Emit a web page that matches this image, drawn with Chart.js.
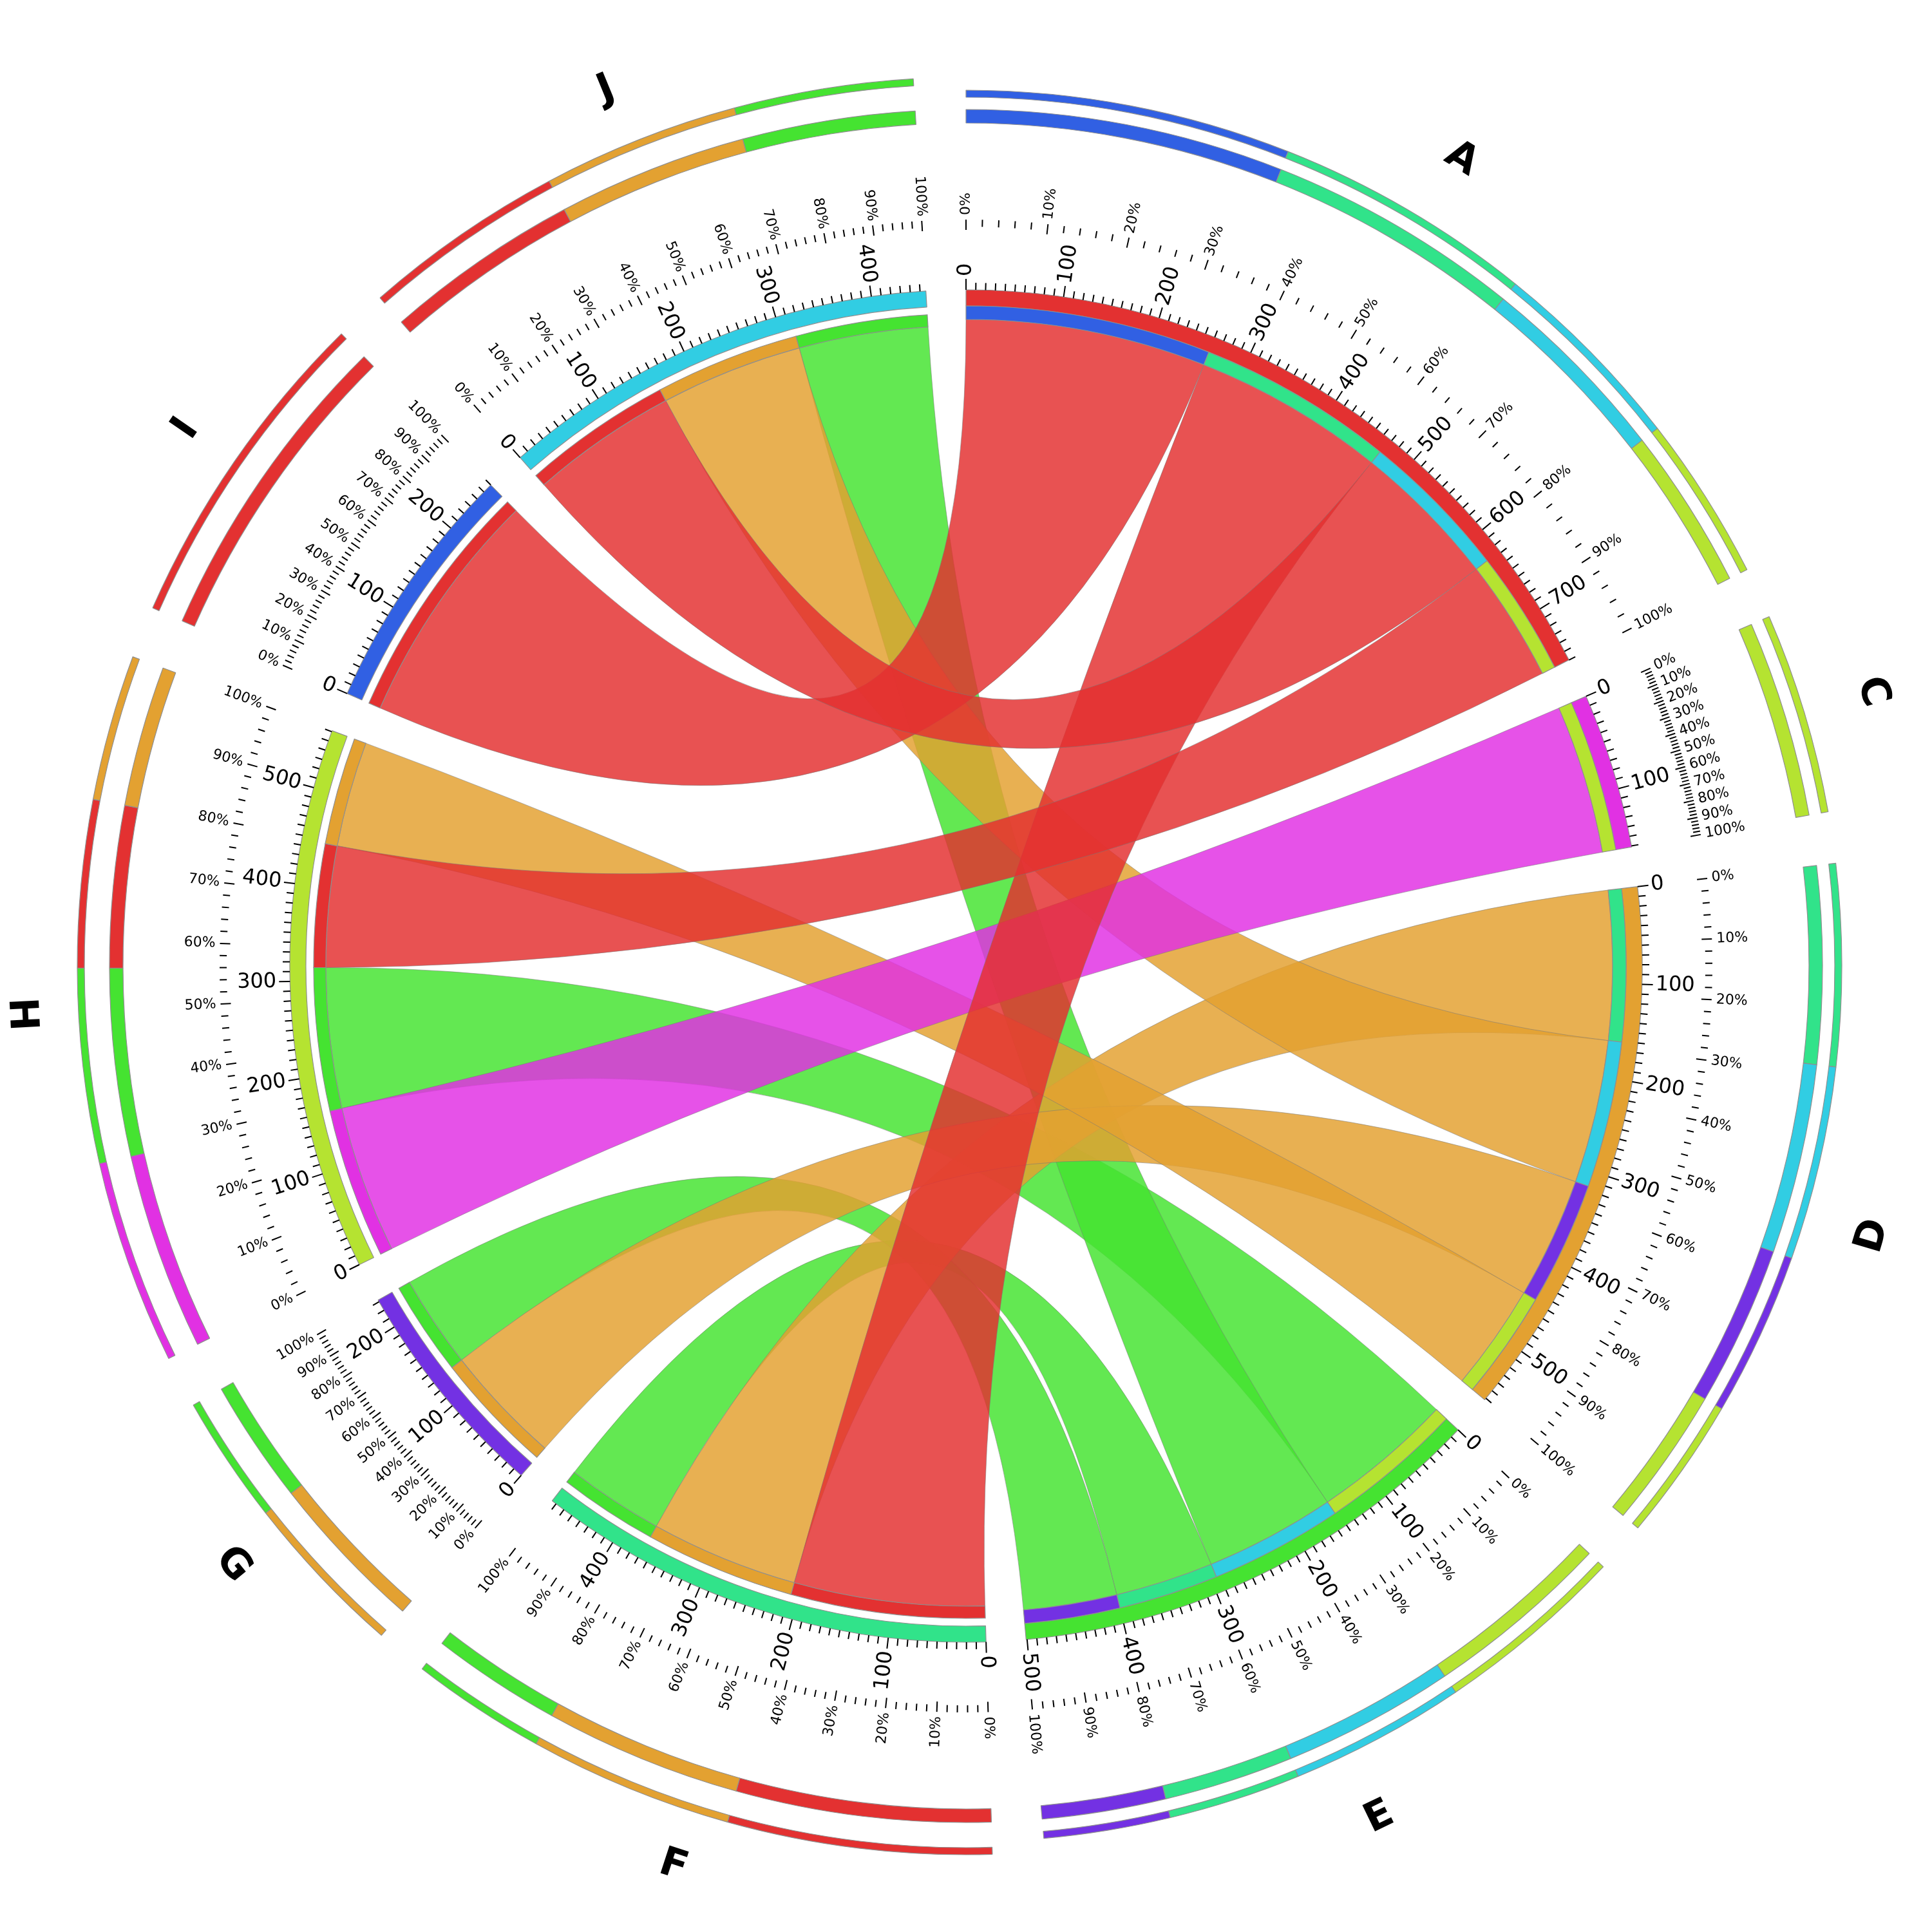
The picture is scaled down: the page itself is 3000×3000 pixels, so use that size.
<!DOCTYPE html>
<html><head><meta charset="utf-8">
<script src="https://cdn.jsdelivr.net/npm/chart.js@4.4.1/dist/chart.umd.min.js"></script>
<style>html,body{margin:0;padding:0;background:#fff}canvas{display:block}</style>
</head><body>
<canvas id="chord" width="3000" height="3000"></canvas>
<script>
// ---------------- data ----------------
const sectorNames = ['A','C','D','E','F','G','H','I','J'];
const sourceNames = ['A','C','D','E'];
const targetNames = ['F','G','H','I','J'];
const sectorColors = ['#E33131','#E131E3','#E3A131','#45E331','#31E38A','#7331E3','#B5E331','#3160E3','#31CDE3'];
// flows from each source to targets F, G, H, I, J
const flowA = [208, 0, 132, 260, 160];
const flowC = [0, 0, 161, 0, 0];
const flowD = [161, 131, 115, 0, 155];
const flowE = [106, 101, 153, 0, 141];
// order of link ends along each sector (clockwise)
const orderA = ['I','F','J','H'];
const orderC = ['H'];
const orderD = ['F','J','G','H'];
const orderE = ['H','J','F','G'];
const orderF = ['A','D','E'];
const orderG = ['D','E'];
const orderH = ['C','E','A','D'];
const orderI = ['A'];
const orderJ = ['A','D','E'];
const pctTickLabels = ['0%','10%','20%','30%','40%','50%','60%','70%','80%','90%','100%'];
const numMajorStep = 100;
const numMinorStep = 10;

// ---------------- derived ----------------
const flows = {A:flowA, C:flowC, D:flowD, E:flowE};
const orders = {A:orderA, C:orderC, D:orderD, E:orderE, F:orderF, G:orderG, H:orderH, I:orderI, J:orderJ};
const colorOf = n => sectorColors[sectorNames.indexOf(n)];
const isSource = n => sourceNames.includes(n);
function flowBetween(a, b) {
  if (flows[a]) return flows[a][targetNames.indexOf(b)] || 0;
  return flows[b][targetNames.indexOf(a)] || 0;
}
const sizes = {};
sectorNames.forEach(n => sizes[n] = orders[n].reduce((s, p) => s + flowBetween(n, p), 0));
const totalUnits = sectorNames.reduce((s, n) => s + sizes[n], 0);
const GAP_DEG = 3.4;
const gapUnits = totalUnits * GAP_DEG / (360 - sectorNames.length * GAP_DEG);
const CLEAR = 'rgba(0,0,0,0)';
const EDGE = '#8f8f8f';

const segVals = [], segPartner = [], segOwner = [];
sectorNames.forEach(n => {
  orders[n].forEach(p => { segVals.push(flowBetween(n, p)); segPartner.push(p); segOwner.push(n); });
  segVals.push(gapUnits); segPartner.push(null); segOwner.push(null);
});
const ownVals = [], ownCols = [], ownBorder = [];
sectorNames.forEach(n => {
  ownVals.push(sizes[n]); ownCols.push(colorOf(n)); ownBorder.push(1.2);
  ownVals.push(gapUnits); ownCols.push(CLEAR); ownBorder.push(0);
});

function ringDataset(filter, weight) {
  return {
    data: segVals, weight,
    backgroundColor: segPartner.map((p, i) => p && filter(segOwner[i]) ? colorOf(p) : CLEAR),
    borderColor: segPartner.map((p, i) => p && filter(segOwner[i]) ? EDGE : CLEAR),
    borderWidth: segPartner.map((p, i) => p && filter(segOwner[i]) ? 1.2 : 0)
  };
}
const spacer = w => ({data: [1], weight: w, backgroundColor: CLEAR, borderWidth: 0});

// radii (px)
const R_OUT = 1380, R_IN = 1025;
const OWN_IDX = 6;
const R_SRC_P = [1004, 1025], R_TGT_P = [994, 1013];

function hexA(hex, a) {
  const v = parseInt(hex.slice(1), 16);
  return `rgba(${(v >> 16) & 255},${(v >> 8) & 255},${v & 255},${a})`;
}

const chordPlugin = {
  id: 'chord',
  afterDatasetsDraw(chart) {
    const ctx = chart.ctx;
    const meta = chart.getDatasetMeta(OWN_IDX);
    const cx = meta.data[0].x, cy = meta.data[0].y;
    const sec = {};
    sectorNames.forEach((n, i) => {
      const arc = meta.data[2 * i];
      sec[n] = {start: arc.startAngle, end: arc.endAngle};
    });
    const ang = (n, u) => sec[n].start + (sec[n].end - sec[n].start) * u / sizes[n];
    const pt = (r, a) => [cx + r * Math.cos(a), cy + r * Math.sin(a)];
    // link end offsets
    const offs = {};
    sectorNames.forEach(n => {
      let c = 0; offs[n] = {};
      orders[n].forEach(p => { const v = flowBetween(n, p); offs[n][p] = [c, c + v]; c += v; });
    });
    // ribbons (drawn last source first, so A ends on top)
    const rS = R_SRC_P[0], rT = R_TGT_P[0];
    sourceNames.slice().reverse().forEach(s => {
      orders[s].forEach(t => {
        const a0 = ang(s, offs[s][t][0]), a1 = ang(s, offs[s][t][1]);
        const b0 = ang(t, offs[t][s][0]), b1 = ang(t, offs[t][s][1]);
        ctx.beginPath();
        const p0 = pt(rS, a0);
        ctx.moveTo(p0[0], p0[1]);
        ctx.arc(cx, cy, rS, a0, a1);
        const q = pt(rT, b0);
        ctx.quadraticCurveTo(cx, cy, q[0], q[1]);
        ctx.arc(cx, cy, rT, b0, b1);
        ctx.quadraticCurveTo(cx, cy, p0[0], p0[1]);
        ctx.closePath();
        ctx.fillStyle = hexA(colorOf(s), 0.84);
        ctx.fill();
        ctx.lineWidth = 1;
        ctx.strokeStyle = 'rgba(120,120,120,0.55)';
        ctx.stroke();
      });
    });
    // partner tracks
    sectorNames.forEach(n => {
      const rr = isSource(n) ? R_SRC_P : R_TGT_P;
      orders[n].forEach(p => {
        const a0 = ang(n, offs[n][p][0]), a1 = ang(n, offs[n][p][1]);
        ctx.beginPath();
        ctx.arc(cx, cy, rr[1], a0, a1);
        ctx.arc(cx, cy, rr[0], a1, a0, true);
        ctx.closePath();
        ctx.fillStyle = colorOf(p);
        ctx.fill();
        ctx.lineWidth = 1.2;
        ctx.strokeStyle = EDGE;
        ctx.stroke();
      });
    });
    // ticks and labels
    function radialText(text, a, r, font) {
      let th = (a + Math.PI / 2) % (2 * Math.PI);
      if (th < 0) th += 2 * Math.PI;
      const p = pt(r, a);
      ctx.save();
      ctx.translate(p[0], p[1]);
      if (th < Math.PI - 1e-6) { ctx.rotate(a); ctx.textAlign = 'left'; }
      else { ctx.rotate(a + Math.PI); ctx.textAlign = 'right'; }
      ctx.textBaseline = 'middle';
      ctx.font = font;
      ctx.fillStyle = '#000';
      ctx.fillText(text, 0, 0);
      ctx.restore();
    }
    function tick(a, r0, r1) {
      const p0 = pt(r0, a), p1 = pt(r1, a);
      ctx.beginPath(); ctx.moveTo(p0[0], p0[1]); ctx.lineTo(p1[0], p1[1]); ctx.stroke();
    }
    ctx.strokeStyle = '#000';
    ctx.lineWidth = 2;
    sectorNames.forEach(n => {
      for (let u = 0; u <= sizes[n] + 1e-9; u += numMinorStep) {
        const a = ang(n, u);
        const major = u % numMajorStep === 0;
        tick(a, 1050, major ? 1067 : 1061);
        if (major) radialText(String(u), a, 1071, '32px "DejaVu Sans"');
      }
      for (let p = 0; p <= 100; p += 2) {
        const a = ang(n, sizes[n] * p / 100);
        const major = p % 10 === 0;
        tick(a, major ? 1143 : 1148, 1159);
        if (major) radialText(pctTickLabels[p / 10], a, 1166, '22px "DejaVu Sans"');
      }
      // sector label
      const mid = (sec[n].start + sec[n].end) / 2;
      let thDeg = ((mid + Math.PI / 2) * 180 / Math.PI) % 360;
      if (thDeg < 0) thDeg += 360;
      const rot = (thDeg >= 90 && thDeg < 270) ? thDeg - 180 : thDeg;
      const p = pt(1470, mid);
      ctx.save();
      ctx.translate(p[0], p[1]);
      ctx.rotate(rot * Math.PI / 180);
      ctx.font = 'bold 62px "DejaVu Sans"';
      ctx.textAlign = 'center';
      ctx.textBaseline = 'middle';
      ctx.fillStyle = '#000';
      ctx.fillText(n, 0, 0);
      ctx.restore();
    });
  }
};

new Chart(document.getElementById('chord'), {
  type: 'doughnut',
  data: {
    labels: segPartner.map((p, i) => p ? segOwner[i] + '-' + p : ''),
    datasets: [
      ringDataset(n => !isSource(n), 11),   // outer thin ring (targets)
      spacer(9),
      ringDataset(n => isSource(n), 11),    // outer thin ring (sources)
      spacer(19),
      ringDataset(n => true, 21),           // thick ring
      spacer(259),
      {data: ownVals, weight: 25, backgroundColor: ownCols, borderColor: ownCols.map(c => c === CLEAR ? CLEAR : EDGE), borderWidth: ownBorder}
    ]
  },
  options: {
    responsive: false,
    animation: false,
    events: [],
    devicePixelRatio: 1,
    radius: R_OUT,
    cutout: (R_IN / R_OUT * 100) + '%',
    rotation: 0,
    circumference: 360,
    layout: {padding: 0},
    plugins: {legend: {display: false}, tooltip: {enabled: false}}
  },
  plugins: [chordPlugin]
});
</script>
</body></html>
